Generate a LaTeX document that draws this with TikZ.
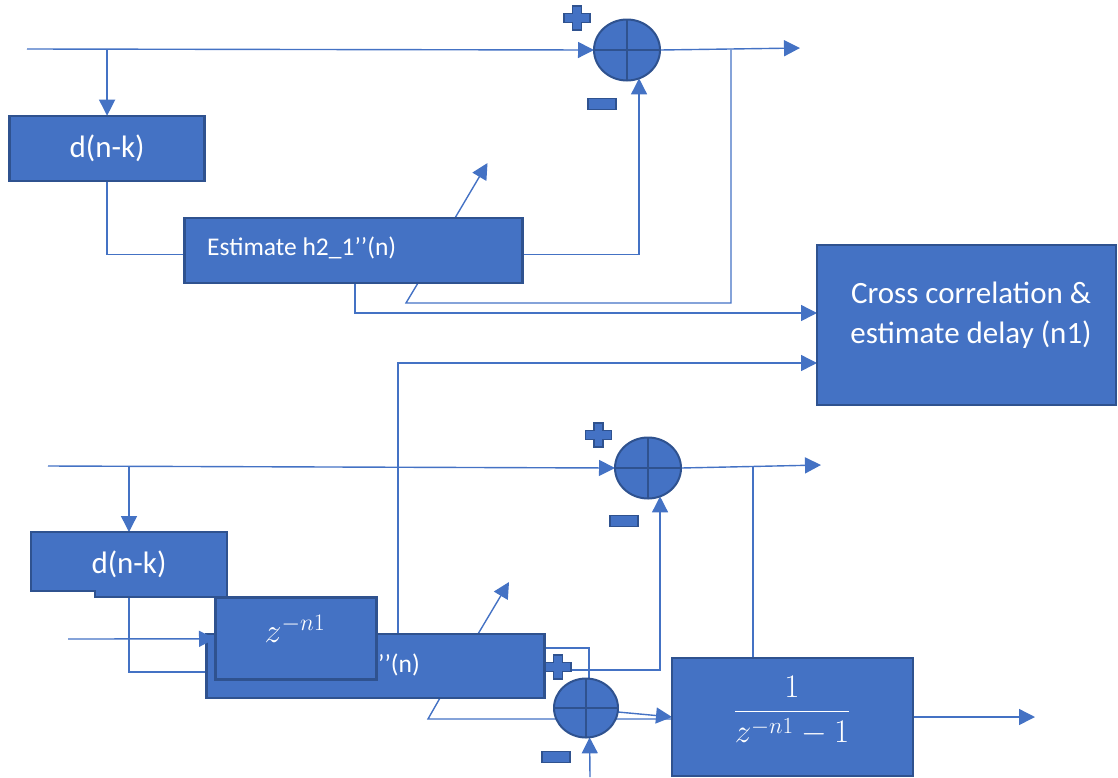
\RequirePackage{fix-cm}
\documentclass[tikz,border=0pt]{standalone}
\usepackage{fontspec}
\setmainfont{Carlito}
\usepackage{amsmath}
\usetikzlibrary{arrows.meta,shapes.geometric,calc,backgrounds}
\definecolor{obl}{HTML}{4472C4}
\definecolor{odk}{HTML}{2F528F}
\newcommand\myBigFont{\fontsize{31}{37}\selectfont}
\newcommand\myEsFont{\fontsize{25.5}{30}\selectfont}
\newcommand\myZFont{\fontsize{34}{40}\selectfont}
\newcommand\myFrFont{\fontsize{33}{40}\selectfont}
\begin{document}
\begin{tikzpicture}[x=1pt,y=-1pt,
  ln/.style={draw=obl,line width=1.4pt},
  arr/.style={-{Triangle[length=16pt,width=16pt]}},
  blk/.style={rectangle,fill=obl,draw=odk,line width=2.4pt,inner sep=0pt,outer sep=0pt,anchor=north west,text=white,font=\myBigFont},
  sumc/.style={ellipse,fill=obl,draw=odk,line width=2pt,minimum width=66pt,minimum height=61pt,inner sep=0pt,outer sep=0pt},
  sgn/.style={fill=obl,draw=odk,line width=1.5pt},
  lbl/.style={text=white,inner sep=0pt},
  plussign/.pic={\path[sgn] (-4.5,-12)--(4.5,-12)--(4.5,-4.5)--(13,-4.5)--(13,4.5)--(4.5,4.5)--(4.5,12)--(-4.5,12)--(-4.5,4.5)--(-13,4.5)--(-13,-4.5)--(-4.5,-4.5)--cycle;},
  minussign/.pic={\path[sgn] (-14,-5.5) rectangle (14,5.5);}]
\useasboundingbox (0,0) rectangle (1118,777);
\coordinate (in1) at (27,49);
\coordinate (out1) at (800,48);
\coordinate (in2) at (48,466);
\coordinate (out2) at (821,465);
\coordinate (in3) at (68,639);
\coordinate (in4) at (590,777);
\coordinate (out3) at (1035,717);
\coordinate (j1) at (731,49.6);
\coordinate (j2) at (406,303);
% upper part
\node[blk,minimum width=195pt,minimum height=65pt] (d1) at (9.6,115.7) {d(n-k)};
\node[blk,minimum width=338pt,minimum height=65pt] (e1) at (184.6,218) {};
\node[lbl,anchor=west,font=\myEsFont] (e1t) at (207,248) {Estimate h2\_1’’(n)};
\node[sumc] (s1) at (627,50) {};
\node[blk,minimum width=299pt,minimum height=160pt] (cc) at (817,245) {};
\node[lbl,align=center,font=\fontsize{31}{40}\selectfont] (cct) at (971,315) {Cross correlation \&\\estimate delay (n1)};
% lower part
\node[sumc] (s2) at (648,468) {};
\node[blk,draw=none,minimum width=196pt,minimum height=59pt] (d2) at (31,532) {};
\node[blk,draw=none,minimum width=132pt,minimum height=50pt] (d2b) at (95,547) {};
\draw[odk,line width=2.4pt] (d2.north west) -- (d2.north east) -- (d2b.south east) -- (d2b.south west) -- (d2b.south west |- d2.south) -- (d2.south west) -- cycle;
\node[lbl,font=\myBigFont] (d2t) at ($(d2.center)+(0,3)$) {d(n-k)};
\node[blk,minimum width=338pt,minimum height=64pt] (e2) at (206.4,634) {};
\node[lbl,anchor=east,font=\myEsFont] (e2t) at (420,665) {Estimate h2\_1’’(n)};
\coordinate (zbw) at (215,638.8);
\draw[ln,arr] (in3) -- (zbw);
\node[blk,anchor=west,minimum width=161pt,minimum height=82pt,line width=3pt] (zb) at (zbw) {};
\node[lbl,font=\myZFont] (zbt) at (295,629) {$z^{-n1}$};
\node[sumc,minimum width=64pt,minimum height=59pt] (s3) at (586,708) {};
\node[blk,minimum width=241pt,minimum height=118pt] (fb) at (672,658) {};
\node[lbl,font=\myFrFont] (fbt) at (792,711) {$\dfrac{1}{z^{-n1}-1}$};
\foreach \s in {s1,s2,s3} \draw[odk,line width=2pt] (\s.north) -- (\s.south) (\s.west) -- (\s.east);
% connectors
\begin{scope}[on background layer]
\draw[ln,arr] (in1) -- (s1.west);
\draw[ln,arr] (d1.north |- in1) -- (d1.north);
\draw[ln] (d1.south) |- ($(e1.west)+(0,4)$);
\draw[ln,arr] ($(e1.east)+(0,4)$) -| (s1.-67);
\draw[ln,arr] (s1.east) -- (out1);
\draw[ln] (j1) |- (j2) -- ($(e1.south west)+(233.4,0)$);
\draw[ln,arr] ($(e1.south west)+(170.4,0)$) |- ($(cc.north west)+(0,68)$);
\draw[ln,arr] ($(e1.north west)+(270.4,0)$) -- ++(32.5,-55);
\draw[ln,arr] ($(e2.north west)+(191.6,0)$) |- ($(cc.north west)+(0,118)$);
\draw[ln,arr] (in2) -- (s2.west);
\draw[ln,arr] (d2.north |- in2) -- (d2.north);
\draw[ln] (d2.south) |- ($(e2.west)+(0,6)$);
\draw[ln] ($(e2.east)+(0,-18)$) -| ($(s3.north)+(3,0)$);
\draw[ln,arr] ($(e2.east)+(0,4)$) -| (s2.-67);
\draw[ln,arr] ($(e2.north west)+(271.6,0)$) -- ++(31,-52);
\draw[ln] ($(e2.south west)+(233.6,0)$) -- ++(-12,21) -- ($(fb.west)+(0,2)$);
\draw[ln,arr] ($(s3.east)+(0,4)$) -- (fb.west);
\draw[ln,arr] (in4) -- (s3.-83);
\draw[ln,arr] (s2.east) -- (out2);
\draw[ln] ($(fb.north west)+(81,0)$) -- ++(0,-192);
\draw[ln,arr] (fb.east) -- (out3);
\end{scope}
% signs
\pic at (577,18) {plussign};
\pic at (602,104) {minussign};
\pic at (598.5,435) {plussign};
\pic at (624,521) {minussign};
\pic at (558,667) {plussign};
\pic at (556,757) {minussign};
\end{tikzpicture}
\end{document}
